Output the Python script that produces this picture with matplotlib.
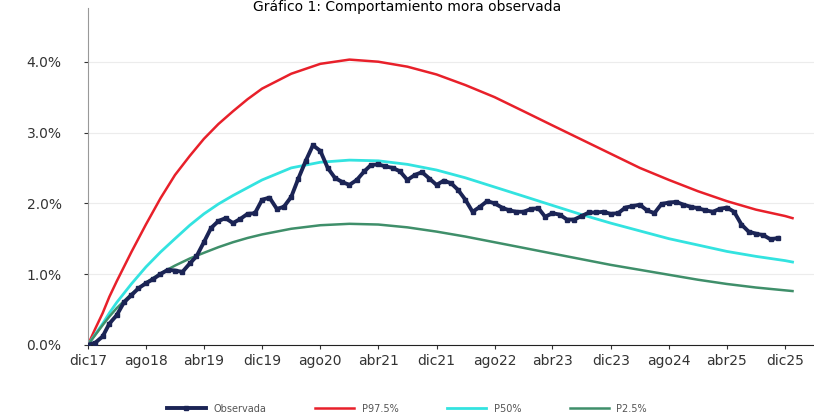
import matplotlib
matplotlib.use('Agg')
import matplotlib.pyplot as plt
import numpy as np
import pandas as pd
from matplotlib.ticker import FuncFormatter

# mora observada mensual desde dic17 (%)
obs_start = '2017-12-01'
observada = [0.0, 0.03, 0.12, 0.30, 0.42, 0.60, 0.70, 0.80, 0.87, 0.93,
             1.00, 1.06, 1.05, 1.03, 1.15, 1.25, 1.45, 1.65, 1.75, 1.79,
             1.72, 1.78, 1.85, 1.86, 2.05, 2.08, 1.92, 1.95, 2.09, 2.35,
             2.60, 2.82, 2.74, 2.50, 2.36, 2.30, 2.26, 2.33, 2.45, 2.54,
             2.55, 2.52, 2.50, 2.45, 2.33, 2.40, 2.44, 2.35, 2.26, 2.32,
             2.28, 2.19, 2.05, 1.88, 1.95, 2.03, 2.00, 1.94, 1.90, 1.88,
             1.88, 1.92, 1.93, 1.81, 1.86, 1.84, 1.77, 1.77, 1.82, 1.87,
             1.87, 1.88, 1.85, 1.86, 1.94, 1.96, 1.98, 1.90, 1.86, 1.99,
             2.01, 2.02, 1.98, 1.95, 1.93, 1.90, 1.88, 1.92, 1.94, 1.88,
             1.70, 1.60, 1.57, 1.55, 1.49, 1.51]

# percentiles proyectados, meses desde dic17
meses_p = [0, 1, 2, 3, 4, 6, 8, 10, 12, 14, 16, 18, 20, 22, 24, 28, 32, 36,
           40, 44, 48, 52, 56, 60, 64, 68, 72, 76, 80, 84, 88, 92, 96, 97]
p975 = [0.0, 0.23, 0.45, 0.68, 0.90, 1.31, 1.70, 2.07, 2.40, 2.67, 2.91,
        3.12, 3.30, 3.47, 3.62, 3.83, 3.97, 4.03, 4.00, 3.93, 3.82, 3.67,
        3.50, 3.30, 3.10, 2.90, 2.70, 2.50, 2.33, 2.17, 2.03, 1.91, 1.82,
        1.79]
p50 = [0.0, 0.15, 0.30, 0.45, 0.60, 0.86, 1.10, 1.31, 1.50, 1.69, 1.85,
       1.99, 2.11, 2.22, 2.33, 2.50, 2.58, 2.61, 2.60, 2.55, 2.47, 2.36,
       2.23, 2.10, 1.97, 1.84, 1.72, 1.61, 1.50, 1.41, 1.32, 1.25, 1.19,
       1.17]
p25 = [0.0, 0.14, 0.28, 0.40, 0.52, 0.72, 0.88, 1.01, 1.12, 1.22, 1.30,
       1.38, 1.45, 1.51, 1.56, 1.64, 1.69, 1.71, 1.70, 1.66, 1.60, 1.53,
       1.45, 1.37, 1.29, 1.21, 1.13, 1.06, 0.99, 0.92, 0.86, 0.81, 0.77,
       0.76]

tick_labels = ['dic17', 'ago18', 'abr19', 'dic19', 'ago20', 'abr21', 'dic21',
               'ago22', 'abr23', 'dic23', 'ago24', 'abr25', 'dic25']

base = pd.Timestamp(obs_start)
fechas_obs = pd.date_range(obs_start, periods=len(observada), freq='MS')
fechas_p = [base + pd.DateOffset(months=m) for m in meses_p]
fechas_ticks = [base + pd.DateOffset(months=8 * i) for i in range(len(tick_labels))]

fig = plt.figure(figsize=(8.14, 4.17), dpi=100)
ax = fig.add_axes([0.108, 0.173, 0.892, 0.808])

ax.plot(fechas_p, p975, color='#e8202a', lw=1.8, label='P97.5%')
ax.plot(fechas_p, p50, color='#33e3e0', lw=2.0, label='P50%')
ax.plot(fechas_p, p25, color='#3f8f6a', lw=1.8, label='P2.5%')
ax.plot(fechas_obs, observada, color='#1b2455', lw=2.8, marker='s',
        markersize=2.5, label='Observada', zorder=5)

ax.set_ylim(0, 4.76)
ax.set_yticks([0, 1, 2, 3, 4])
ax.yaxis.set_major_formatter(FuncFormatter(lambda v, p: f'{v:.1f}%'))
ax.set_xlim(base, base + pd.DateOffset(months=100))
ax.set_xticks(fechas_ticks)
ax.set_xticklabels(tick_labels)
ax.tick_params(axis='both', labelsize=10, colors='#333333', length=3)
ax.tick_params(axis='y', pad=16)
ax.grid(axis='y', color='#ececec', lw=0.8)
ax.set_axisbelow(True)
for s in ['top', 'right']:
    ax.spines[s].set_visible(False)
ax.spines['left'].set_color('#999999')
ax.spines['bottom'].set_color('#222222')

fig.text(0.5, 1.0, 'Gráfico 1: Comportamiento mora observada',
         ha='center', va='top', fontsize=10)

h, l = ax.get_legend_handles_labels()
orden = [3, 0, 1, 2]
fig.legend([h[i] for i in orden], [l[i] for i in orden], loc='center',
           bbox_to_anchor=(0.5, 0.02), ncol=4, frameon=False, fontsize=7,
           columnspacing=5, handlelength=4, labelcolor='#555555')

fig.savefig('out.png', dpi=100)
